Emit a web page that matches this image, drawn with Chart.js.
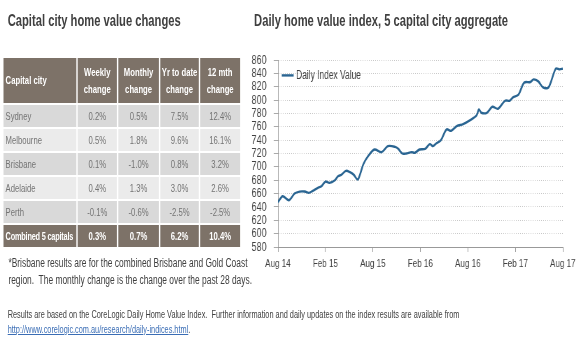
<!DOCTYPE html>
<html>
<head>
<meta charset="utf-8">
<script src="https://cdn.jsdelivr.net/npm/chart.js@4"></script>
<style>
  body { margin: 0; background: #fff; overflow: hidden; }
  /* the source picture is squashed horizontally, so lay out wide and scale x */
  #page { position: relative; width: 829px; height: 352px; transform: scaleX(0.7); transform-origin: 0 0;
    font-family: "Liberation Sans", Arial, sans-serif; color: #404040; }
  .title { position: absolute; top: 12px; font-size: 16px; font-weight: bold; color: #404040; white-space: nowrap; }
  table { position: absolute; left: 3px; top: 56px; border-collapse: separate; border-spacing: 2px; }
  td, th { padding: 0; white-space: nowrap; }
  th { background: #7d7268; color: #fff; font-weight: bold; font-size: 11px; height: 45px; line-height: 17px; }
  td { height: 22px; color: #737373; text-align: center; font-size: 11px; }
  td:first-child, th:first-child { text-align: left; padding-left: 3px; }
  tr.odd td { background: #d9d9d9; }
  tr.even td { background: #ebebeb; }
  tr.total td { background: #7d7268; color: #fff; font-weight: bold; }
  tr.total td:first-child { font-size: 10.5px; letter-spacing: -0.3px; }
  .note { position: absolute; left: 12px; top: 255px; font-size: 12px; line-height: 17px; color: #404040; white-space: nowrap; }
  .foot { position: absolute; left: 11px; top: 307px; font-size: 10.5px; line-height: 15px; color: #404040; white-space: nowrap; }
  .foot a { color: #3a6db5; }
  #wrap { position: absolute; left: 357px; top: 40px; width: 471px; height: 240px; }
</style>
</head>
<body>
<div id="page">
  <div class="title" style="left:11px">Capital city home value changes</div>
  <div class="title" style="left:363px">Daily home value index, 5 capital city aggregate</div>
  <table id="tbl"></table>
  <div class="note">*Brisbane results are for the combined Brisbane and Gold Coast<br>region.&nbsp; The monthly change is the change over the past 28 days.</div>
  <div class="foot">Results are based on the CoreLogic Daily Home Value Index.&nbsp; Further information and daily updates on the index results are available from<br><a href="#">http://www.corelogic.com.au/research/daily-indices.html</a>.</div>
  <div id="wrap"><canvas id="chart"></canvas></div>
</div>
<script>
// table data
const headers = ["Capital city", "Weekly<br>change", "Monthly<br>change", "Yr to date<br>change", "12 mth<br>change"]
const cities = ["Sydney", "Melbourne", "Brisbane", "Adelaide", "Perth", "Combined 5 capitals"]
const weekly = ["0.2%", "0.5%", "0.1%", "0.4%", "-0.1%", "0.3%"]
const monthly = ["0.5%", "1.8%", "-1.0%", "1.3%", "-0.6%", "0.7%"]
const ytd = ["7.5%", "9.6%", "0.8%", "3.0%", "-2.5%", "6.2%"]
const annual = ["12.4%", "16.1%", "3.2%", "2.6%", "-2.5%", "10.4%"]

// chart data: months since Aug 2014 and index value
const months = [0, 0.6, 1.4, 2.1, 2.75, 3.4, 3.9, 4.4, 5.1, 5.5, 6.0, 6.5, 7.2, 7.6, 8.0, 8.6, 9.1, 9.6, 10.1,
  10.8, 11.4, 12.2, 13.1, 13.9, 14.8, 15.2, 15.7, 16.2, 16.9, 17.3, 17.9, 18.6, 19.2, 19.6, 20.0, 20.6,
  21.3, 21.9, 22.6, 23.4, 24.3, 25.1, 25.4, 25.7, 26.4, 27.1, 27.8, 28.7, 29.3, 29.7, 30.4, 31.1, 31.9,
  32.3, 32.9, 33.5, 34.2, 35.1, 35.6, 36.0]
const values = [647, 656, 650, 660, 663, 663, 661, 664, 669, 671, 678, 676, 680, 686, 688, 694, 692, 688, 681,
  704, 716, 726, 722, 731, 730, 727, 720, 720, 722, 721, 726, 727, 734, 731, 735, 740,
  756, 754, 761, 764, 770, 777, 786, 781, 781, 790, 787, 799, 799, 804, 808, 826, 827,
  831, 828, 819, 819, 847, 846, 847]
const tickLabels = ["Aug 14", "Feb 15", "Aug 15", "Feb 16", "Aug 16", "Feb 17", "Aug 17"]

const tbl = document.getElementById("tbl")
const widths = [101, 56, 58, 55, 57]
let html = "<tr>" + headers.map((h, i) => `<th style="width:${widths[i]}px">${h}</th>`).join("") + "</tr>"
cities.forEach((c, i) => {
  const cls = i === cities.length - 1 ? "total" : (i % 2 === 0 ? "odd" : "even")
  html += `<tr class="${cls}"><td>${c}</td><td>${weekly[i]}</td><td>${monthly[i]}</td><td>${ytd[i]}</td><td>${annual[i]}</td></tr>`
})
tbl.innerHTML = html

Chart.defaults.font.family = "'Liberation Sans', Arial, sans-serif"
Chart.defaults.color = "#404040"

new Chart(document.getElementById("chart"), {
  type: "line",
  data: {
    datasets: [{
      label: "Daily Index Value",
      data: months.map((m, i) => ({ x: m, y: values[i] })),
      borderColor: "#2a6592",
      backgroundColor: "#2a6592",
      borderWidth: 2.4,
      pointRadius: 0,
      tension: 0.3,
    }],
  },
  options: {
    responsive: true,
    maintainAspectRatio: false,
    animation: false,
    layout: { padding: { top: 20, right: 24, bottom: 0, left: 0 } },
    plugins: {
      tooltip: { enabled: false },
      legend: {
        position: "chartArea",
        align: "start",
        // blank title only pushes the legend row down into the plot
        title: { display: true, text: " ", font: { size: 12 }, padding: { top: 7, bottom: 0 } },
        labels: {
          usePointStyle: true,
          pointStyle: "line",
          boxWidth: 12,
          padding: 8,
          color: "#404040",
          font: { size: 12 },
        },
      },
    },
    scales: {
      x: {
        type: "linear",
        min: 0,
        max: 36,
        afterFit: (s) => { s.height = 33 },
        ticks: {
          stepSize: 6,
          maxRotation: 0,
          autoSkip: false,
          font: { size: 11.5 },
          padding: 5,
          callback: (v) => tickLabels[v / 6],
        },
        grid: { drawOnChartArea: false, drawTicks: true, tickLength: 5, color: "#999" },
        border: { color: "#999" },
      },
      y: {
        min: 580,
        max: 860,
        afterFit: (s) => { s.width = 40 },
        ticks: { stepSize: 20, autoSkip: false, font: { size: 13 }, padding: 10 },
        grid: { color: "#c4c4c4", tickLength: 6, tickColor: "#aaa", tickBorderDash: [] },
        border: { color: "#999", dash: [1, 2] },
      },
    },
  },
})
</script>
</body>
</html>
